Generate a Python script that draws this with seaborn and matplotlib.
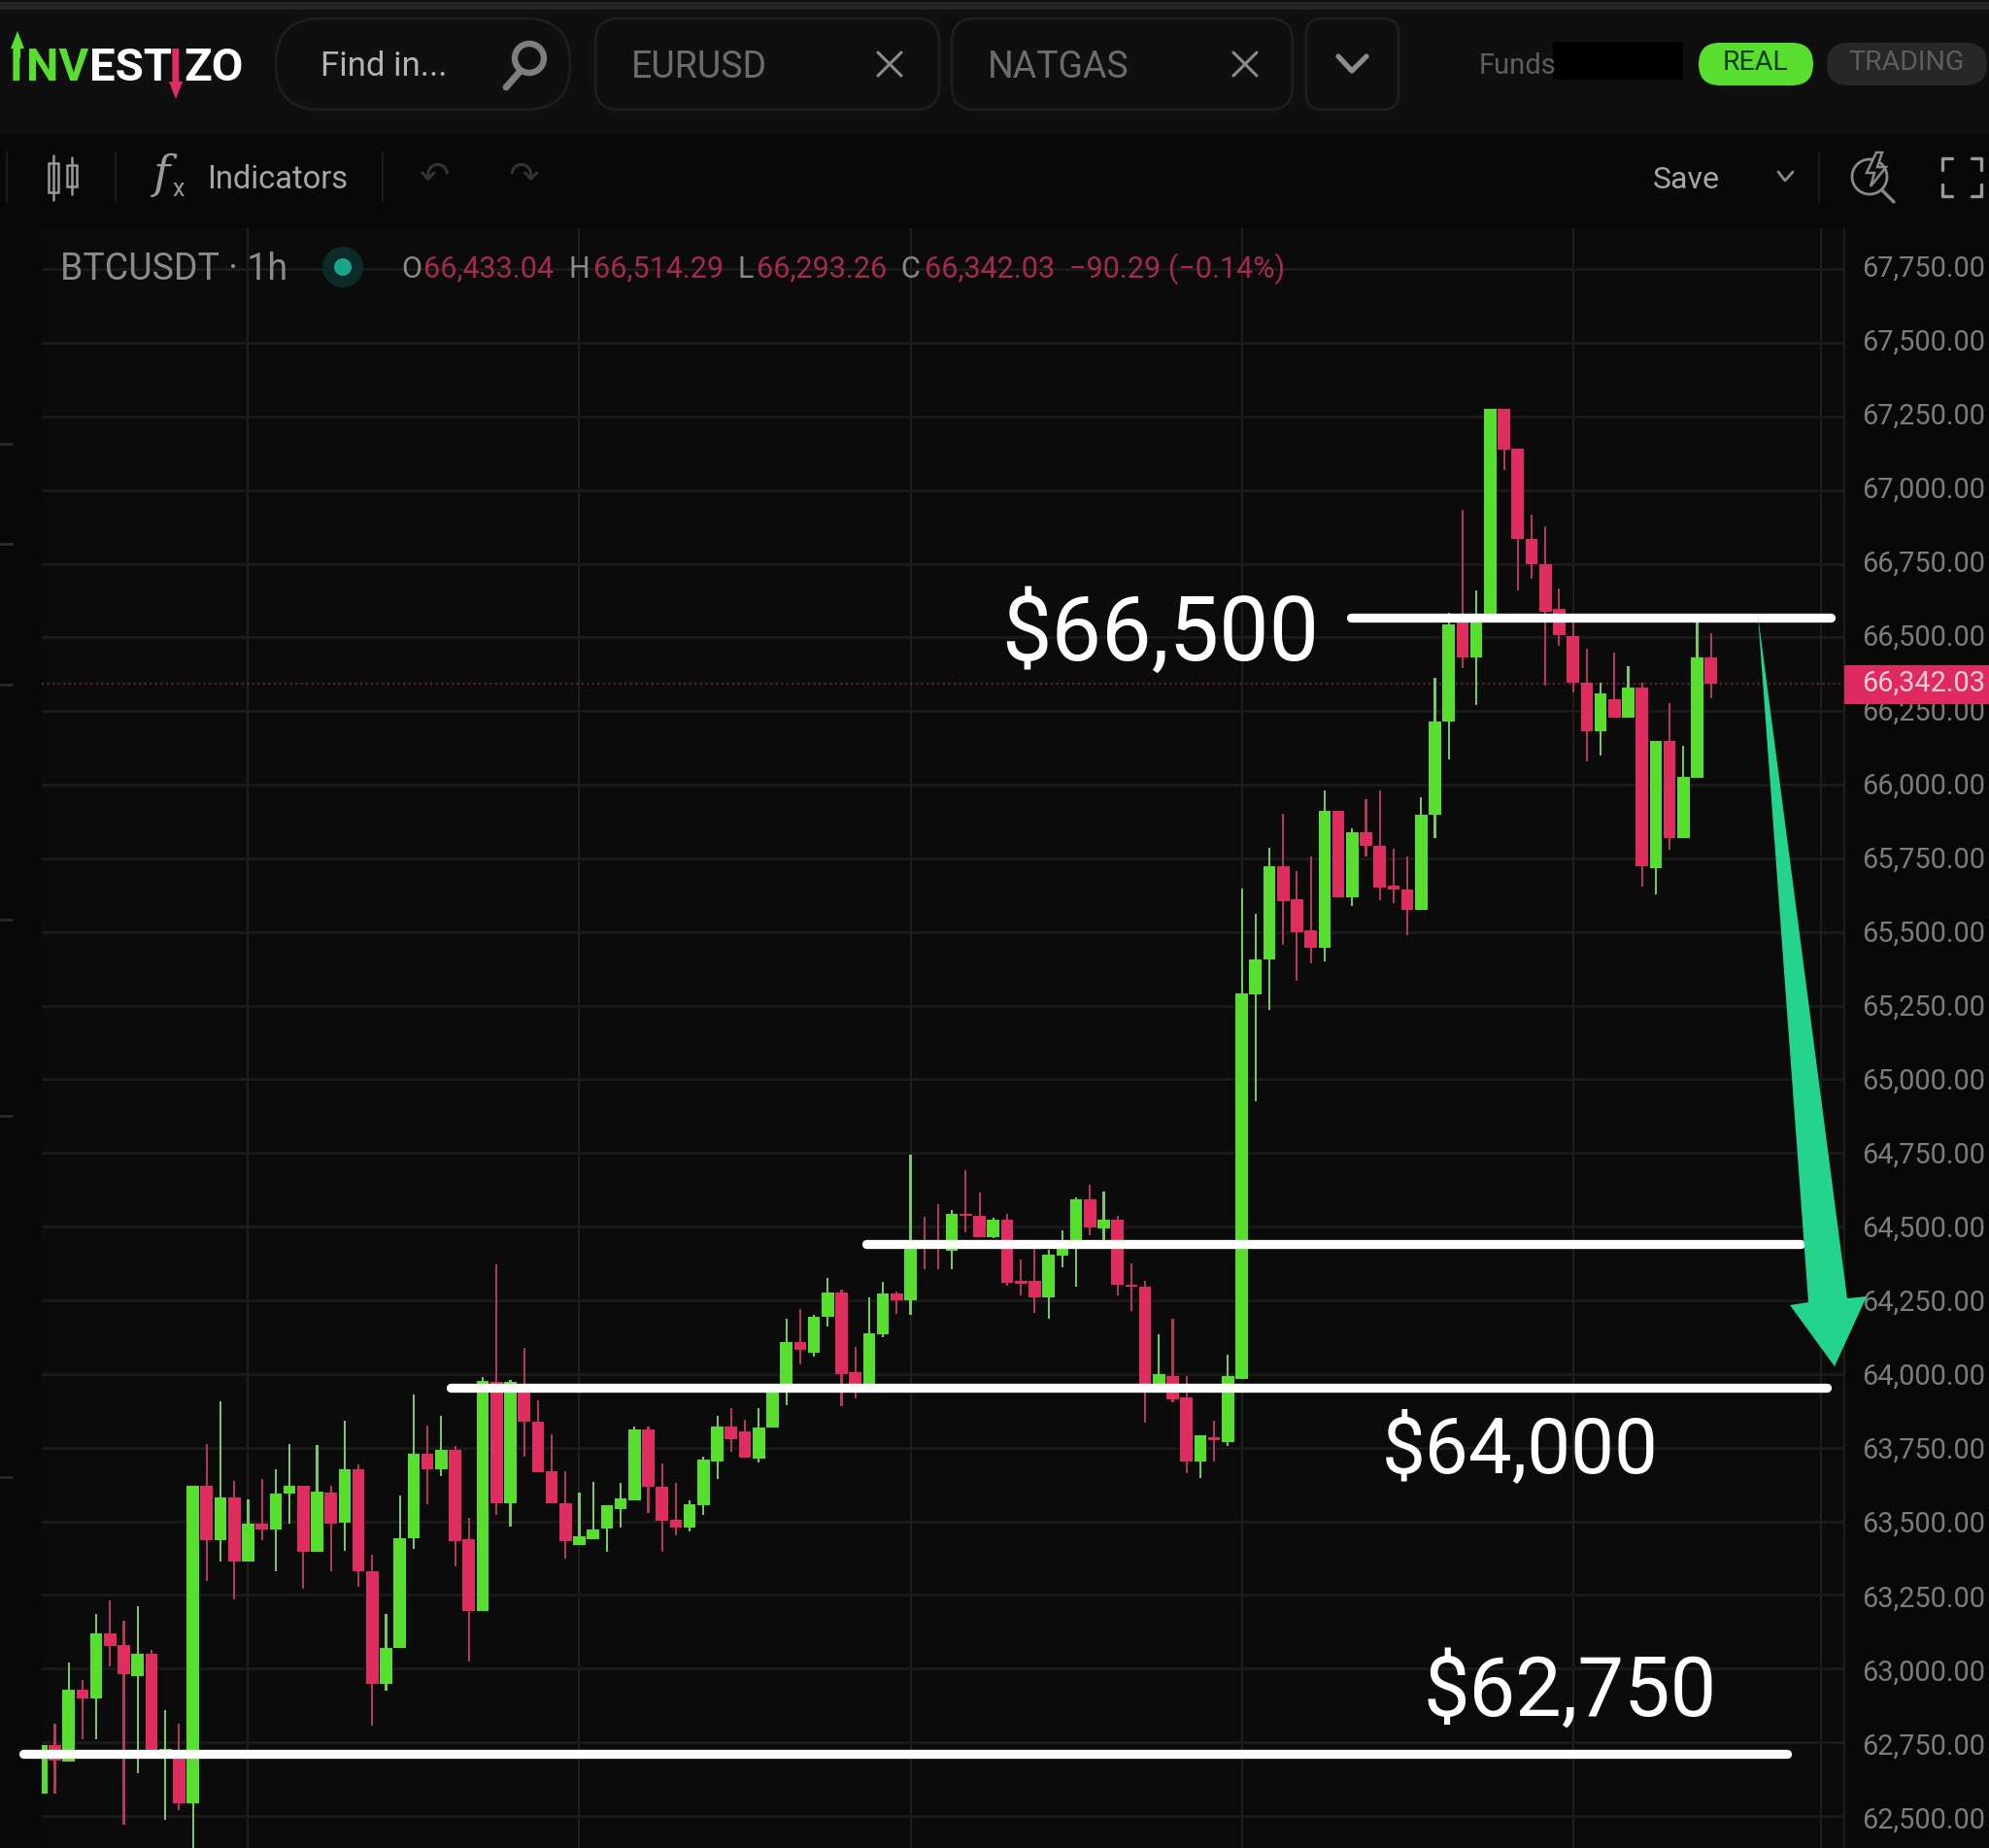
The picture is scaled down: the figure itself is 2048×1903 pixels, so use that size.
import matplotlib
matplotlib.use('Agg')
import matplotlib.pyplot as plt
from matplotlib.patches import Rectangle, FancyBboxPatch, Polygon, Circle
from matplotlib.transforms import ScaledTranslation
import numpy as np
import pandas as pd
import seaborn as sns

# candle values (1h BTCUSDT)
opens = [62577, 62740, 62685, 62929, 62897, 63119, 63080, 62976, 63051, 62697,
         62714, 62543, 63619, 63435, 63580, 63362, 63493, 63473, 63595, 63621,
         63397, 63598, 63495, 63677, 63330, 62949, 63069, 63441, 63728, 63676,
         63743, 63439, 63195, 63974, 63560, 63960, 63838, 63670, 63562, 63420,
         63439, 63474, 63540, 63571, 63813, 63618, 63505, 63480, 63555, 63703,
         63822, 63805, 63712, 63818, 63950, 64107, 64073, 64194, 64277, 64005,
         63940, 64135, 64274, 64250, 64450, 64435, 64417, 64545, 64538, 64464,
         64525, 64315, 64315, 64261, 64403, 64430, 64593, 64494, 64525, 64303,
         64296, 63955, 63994, 63919, 63703, 63785, 63769, 63983, 65288, 65406,
         65725, 65610, 65505, 65445, 65912, 65617, 65840, 65794, 65656, 65643,
         65574, 65898, 66213, 66550, 66431, 66560, 67277, 67141, 66834, 66747,
         66596, 66505, 66348, 66182, 66292, 66227, 66329, 65716, 66148, 65818,
         66023, 66433.04]
closes = [62740, 62689, 62929, 62897, 63119, 63077, 62982, 63049, 62714, 62726,
          62543, 63619, 63435, 63580, 63362, 63493, 63473, 63595, 63621, 63397,
          63600, 63493, 63677, 63330, 62949, 63069, 63444, 63728, 63676, 63743,
          63434, 63195, 63978, 63560, 63972, 63838, 63665, 63560, 63434, 63448,
          63472, 63555, 63577, 63813, 63618, 63502, 63480, 63557, 63711, 63822,
          63778, 63716, 63818, 63950, 64107, 64082, 64194, 64277, 64000, 63940,
          64137, 64274, 64250, 64455, 64428, 64425, 64545, 64537, 64464, 64525,
          64310, 64307, 64261, 64406, 64440, 64593, 64497, 64525, 64302, 64295,
          63940, 64000, 63915, 63703, 63791, 63775, 63994, 65291, 65406, 65725,
          65604, 65500, 65445, 65912, 65617, 65838, 65791, 65650, 65643, 65574,
          65897, 66216, 66545, 66431, 66550, 67277, 67138, 66834, 66747, 66587,
          66507, 66348, 66182, 66310, 66227, 66329, 65722, 66148, 65818, 66026,
          66431, 66342.03]
highs = [62740, 62813, 63022, 62961, 63185, 63232, 63162, 63212, 63063, 62860,
         62813, 63619, 63763, 63906, 63638, 63575, 63642, 63677, 63763, 63621,
         63758, 63621, 63842, 63693, 63386, 63185, 63589, 63931, 63825, 63859,
         63755, 63511, 63990, 64373, 63980, 64088, 63912, 63796, 63670, 63599,
         63634, 63555, 63629, 63820, 63820, 63695, 63629, 63571, 63720, 63857,
         63884, 63846, 63884, 63950, 64186, 64222, 64200, 64327, 64285, 64093,
         64260, 64313, 64280, 64743, 64532, 64576, 64556, 64692, 64615, 64530,
         64543, 64387, 64455, 64420, 64488, 64600, 64642, 64620, 64538, 64376,
         64315, 64135, 64186, 63994, 63791, 63840, 64065, 65648, 65562, 65785,
         65901, 65708, 65758, 65980, 65912, 65853, 65950, 65981, 65783, 65758,
         65956, 66363, 66585, 66934, 66658, 67277, 67277, 67141, 66916, 66877,
         66666, 66550, 66462, 66346, 66448, 66401, 66346, 66148, 66276, 66131,
         66554, 66514.29]
lows = [62577, 62577, 62685, 62761, 62761, 63007, 62470, 62645, 62714, 62488,
        62519, 62380, 63296, 63362, 63235, 63362, 63435, 63330, 63493, 63270,
        63397, 63330, 63400, 63278, 62805, 62924, 63069, 63406, 63559, 63654,
        63346, 63024, 63195, 63522, 63483, 63720, 63665, 63560, 63373, 63420,
        63439, 63395, 63480, 63571, 63527, 63395, 63452, 63467, 63520, 63645,
        63736, 63716, 63698, 63818, 63895, 64033, 64060, 64161, 63890, 63917,
        63940, 64124, 64203, 64200, 64357, 64357, 64354, 64481, 64464, 64460,
        64299, 64266, 64208, 64186, 64362, 64296, 64472, 64455, 64266, 64214,
        63835, 63955, 63905, 63664, 63648, 63703, 63755, 63983, 64926, 65236,
        65456, 65333, 65395, 65399, 65617, 65588, 65758, 65607, 65599, 65489,
        65574, 65818, 66085, 66397, 66272, 66560, 67069, 66658, 66698, 66335,
        66471, 66312, 66080, 66099, 66227, 66227, 65654, 65629, 65781, 65818,
        66023, 66293.26]

# drawn levels (price, first candle, last candle)
level_prices = [66567, 64441, 63954, 62711]
level_start = [94.9, 59.8, 29.7, -1.27]
level_end = [129.7, 127.5, 129.4, 126.5]
level_labels = ['$66,500', '$64,000', '$62,750']
price_ticks = np.arange(62500, 68000, 250)
day_ticks = [15, 39, 63, 87, 111, 129]
last_price = 66342.03

GREEN, RED = '#58DE2E', '#E02D60'
BG = '#0B0B0B'

sns.set_theme(style='dark', rc={'axes.facecolor': BG, 'figure.facecolor': '#080808'})
plt.rcParams['font.family'] = ['Roboto', 'DejaVu Sans']

W, H = 2048, 1903
fig = plt.figure(figsize=(W / 100, H / 100), dpi=100)

df = pd.DataFrame({'i': np.arange(len(opens)), 'o': opens, 'c': closes, 'h': highs, 'l': lows})
df['top'] = df[['o', 'c']].max(axis=1)
df['bot'] = df[['o', 'c']].min(axis=1)
df['body'] = df['top'] - df['bot']
df['wick'] = df['h'] - df['l']
up = df[df.c >= df.o]
down = df[df.c < df.o]

ax = fig.add_axes([43 / W, 0, (1899 - 43) / W, (H - 235) / H])
for part, color_up, color_dn, w in [('wick', '#78C763', '#B03A58', 0.15), ('body', GREEN, RED, 0.89)]:
    base = 'l' if part == 'wick' else 'bot'
    for sub, col in [(up, color_up), (down, color_dn)]:
        sns.barplot(data=sub, x='i', y=part, bottom=sub[base].values, native_scale=True,
                    color=col, saturation=1, width=w, errorbar=None, linewidth=0, ax=ax, zorder=3)

ax.set_xlim(0.05, 130.66)
ax.set_ylim(62391, 67889)
ax.set_xlabel('')
ax.set_ylabel('')
ax.set_xticks(day_ticks)
ax.set_xticklabels([])
ax.set_yticks(price_ticks)
ax.set_yticklabels([f'{p:,.2f}' for p in price_ticks], fontsize=20.8, color='#7C7C7C')
ax.yaxis.tick_right()
ax.tick_params(axis='both', length=0)
ax.tick_params(axis='y', pad=13)
ax.grid(True, axis='y', color='#1B1B1B', lw=2)
ax.grid(True, axis='x', color='#1F1F1F', lw=1.5)
ax.set_axisbelow(True)
for s in ax.spines.values():
    s.set_visible(False)
ax.spines['right'].set_visible(True)
ax.spines['right'].set_color('#1E1E1E')
ax.spines['right'].set_linewidth(1.5)

# the upper price labels sit a little above their grid lines in the screenshot
for p, lab in zip(price_ticks, ax.get_yticklabels()):
    shift = 0.035 * (p - 64000) / 3750
    lab.set_transform(lab.get_transform() + ScaledTranslation(0, shift, fig.dpi_scale_trans))

ax.axhline(last_price, color='#5E2233', lw=1.6, ls=(0, (1, 1.5)), zorder=2)
for p, a, b in zip(level_prices, level_start, level_end):
    ax.plot([a, b], [p, p], color='white', lw=6.7, solid_capstyle='round', clip_on=False, zorder=6)

# screen furniture on a pixel canvas above the chart
ui = fig.add_axes([0, 0, 1, 1], zorder=5)
ui.set_xlim(0, W)
ui.set_ylim(H, 0)
ui.axis('off')
ui.patch.set_alpha(0)


def txt(x, y, s, size, color, ha='left', **kw):
    ui.text(x, y, s, fontsize=size, color=color, ha=ha, va='center', **kw)


def pill(x0, y0, x1, y1, r, fc='none', ec='#1F1F1F', lw=1.8):
    ui.add_patch(FancyBboxPatch((x0 + r, y0 + r), x1 - x0 - 2 * r, y1 - y0 - 2 * r,
                                boxstyle=f'round,pad={r},rounding_size={r}', fc=fc, ec=ec, lw=lw))


ui.add_patch(Rectangle((0, 0), W, 138, fc='#0F0F0F', ec='none', zorder=0))
ui.add_patch(Rectangle((0, 2), W, 8, fc='#232323', ec='none', zorder=0))
ui.add_patch(Rectangle((0, 138), W, 97, fc='#080808', ec='none', zorder=0))

# logo
txt(10, 70, 'I', 34, GREEN, weight='bold')
txt(27, 70, 'NV', 34, GREEN, weight='bold')
txt(92, 70, 'EST', 34, 'white', weight='bold')
txt(174, 70, 'I', 34, RED, weight='bold')
txt(189, 70, 'ZO', 34, 'white', weight='bold')
ui.add_patch(Polygon([(18, 32), (25, 50), (21, 50), (21, 60), (15, 60), (15, 50), (11, 50)], fc=GREEN, ec='none'))
ui.add_patch(Polygon([(181, 102), (174, 84), (178, 84), (178, 76), (184, 76), (184, 84), (188, 84)], fc=RED, ec='none'))

pill(284, 19, 587, 113, 46)
pill(613, 19, 967, 113, 24)
pill(980, 19, 1331, 113, 24)
pill(1345, 19, 1440, 113, 16)
txt(330, 69, 'Find in...', 25, '#B4B4B4')
txt(650, 70, 'EURUSD', 27, '#6C6C6C')
txt(1017, 70, 'NATGAS', 27, '#6C6C6C')
for cx in (916, 1282):
    ui.plot([cx - 12, cx + 12], [54, 78], color='#8A8A8A', lw=2.2)
    ui.plot([cx - 12, cx + 12], [78, 54], color='#8A8A8A', lw=2.2)
ui.plot([1378, 1392, 1407], [58, 73, 58], color='#8C8C8C', lw=3.8)
# magnifier
ui.add_patch(Circle((545, 60), 15, fc='none', ec='#7E7E7E', lw=4.6))
ui.plot([535, 521], [74, 90], color='#7E7E7E', lw=5, solid_capstyle='round')

txt(1523, 68, 'Funds', 21, '#5E5E5E')
ui.add_patch(Rectangle((1599, 43), 134, 39, fc='black', ec='none'))
pill(1749, 44, 1867, 88, 22, fc=GREEN, ec='none')
txt(1808, 65, 'REAL', 20.5, '#0C3B06', ha='center')
pill(1881, 44, 2046, 88, 22, fc='#272727', ec='none')
txt(1963, 65, 'TRADING', 20.5, '#5E5E5E', ha='center')

# toolbar
for sx in (7, 119, 394, 1873):
    ui.plot([sx, sx], [157, 208], color='#1B1B1B', lw=1.5)
for cx, y0, y1 in ((55, 168, 198), (74, 170, 192)):
    ui.add_patch(Rectangle((cx - 5, y0), 10, y1 - y0, fc='none', ec='#9A9A9A', lw=1.8))
    ui.plot([cx, cx], [y0 - 8, y1 + 8], color='#9A9A9A', lw=1.8, zorder=0)
txt(158, 180, 'f', 34, '#9A9A9A', style='italic', family=['DejaVu Serif'])
txt(177, 195, 'x', 18, '#9A9A9A')
txt(213, 185, 'Indicators', 23.5, '#A6A6A6')
txt(447, 182, '\u21B6', 27, '#333333', ha='center', family=['DejaVu Sans'])
txt(539, 182, '\u21B7', 27, '#333333', ha='center', family=['DejaVu Sans'])
txt(1702, 185, 'Save', 23, '#A6A6A6')
ui.plot([1831, 1838, 1846], [177, 186, 177], color='#8A8A8A', lw=2)
# lightning / search icon
ui.add_patch(Circle((1925, 182), 18, fc='none', ec='#8A8A8A', lw=2))
ui.plot([1938, 1950], [196, 208], color='#8A8A8A', lw=2.4)
ui.add_patch(Polygon([(1932, 157), (1922, 178), (1930, 178), (1926, 192), (1942, 172), (1933, 172), (1938, 157)],
                     fc='#080808', ec='#8A8A8A', lw=1.8))
# fullscreen corners
for xs, ys in (([2000, 2000, 2010], [175, 163, 163]), ([2030, 2040, 2040], [163, 163, 175]),
               ([2000, 2000, 2010], [190, 202, 202]), ([2030, 2040, 2040], [202, 202, 190])):
    ui.plot(xs, ys, color='#9A9A9A', lw=2.4)

# left edge marks
for my in (457, 560, 705, 947, 1149, 1521):
    ui.plot([0, 12], [my, my], color='#2A2A2A', lw=2)

# legend row
txt(62, 278, 'BTCUSDT \u00b7 1h', 27, '#8A8A8A')
ui.add_patch(Circle((353, 275), 21, fc='#0C2B28', ec='none'))
ui.add_patch(Circle((353, 275), 9, fc='#17A58C', ec='none'))
for x, s in [(413, 'O'), (585, 'H'), (759, 'L'), (927, 'C')]:
    txt(x, 277, s, 22, '#8A8A8A')
for x, s in [(436, '66,433.04'), (611, '66,514.29'), (779, '66,293.26'), (952, '66,342.03'),
             (1101, '\u221290.29 (\u22120.14%)')]:
    txt(x, 277, s, 22, '#A52A4C')

# last price tag
ui.add_patch(Rectangle((1899, 685), 149, 40, fc='#DE2A5E', ec='none', zorder=4))
txt(1917, 704, f'{last_price:,.2f}', 20.8, '#F6CEDA', zorder=5)

# projected move arrow
ui.add_patch(Polygon([(1810, 633), (1902, 1337), (1922, 1335), (1889, 1407), (1843, 1344), (1862, 1341)],
                     fc='#24D38C', ec='none', zorder=7))

txt(1031, 654, level_labels[0], 66, 'white', zorder=8)
txt(1423, 1494, level_labels[1], 57.5, 'white', zorder=8)
txt(1466, 1742, level_labels[2], 61, 'white', zorder=8)

fig.savefig('out.png', dpi=100, facecolor='#080808')
